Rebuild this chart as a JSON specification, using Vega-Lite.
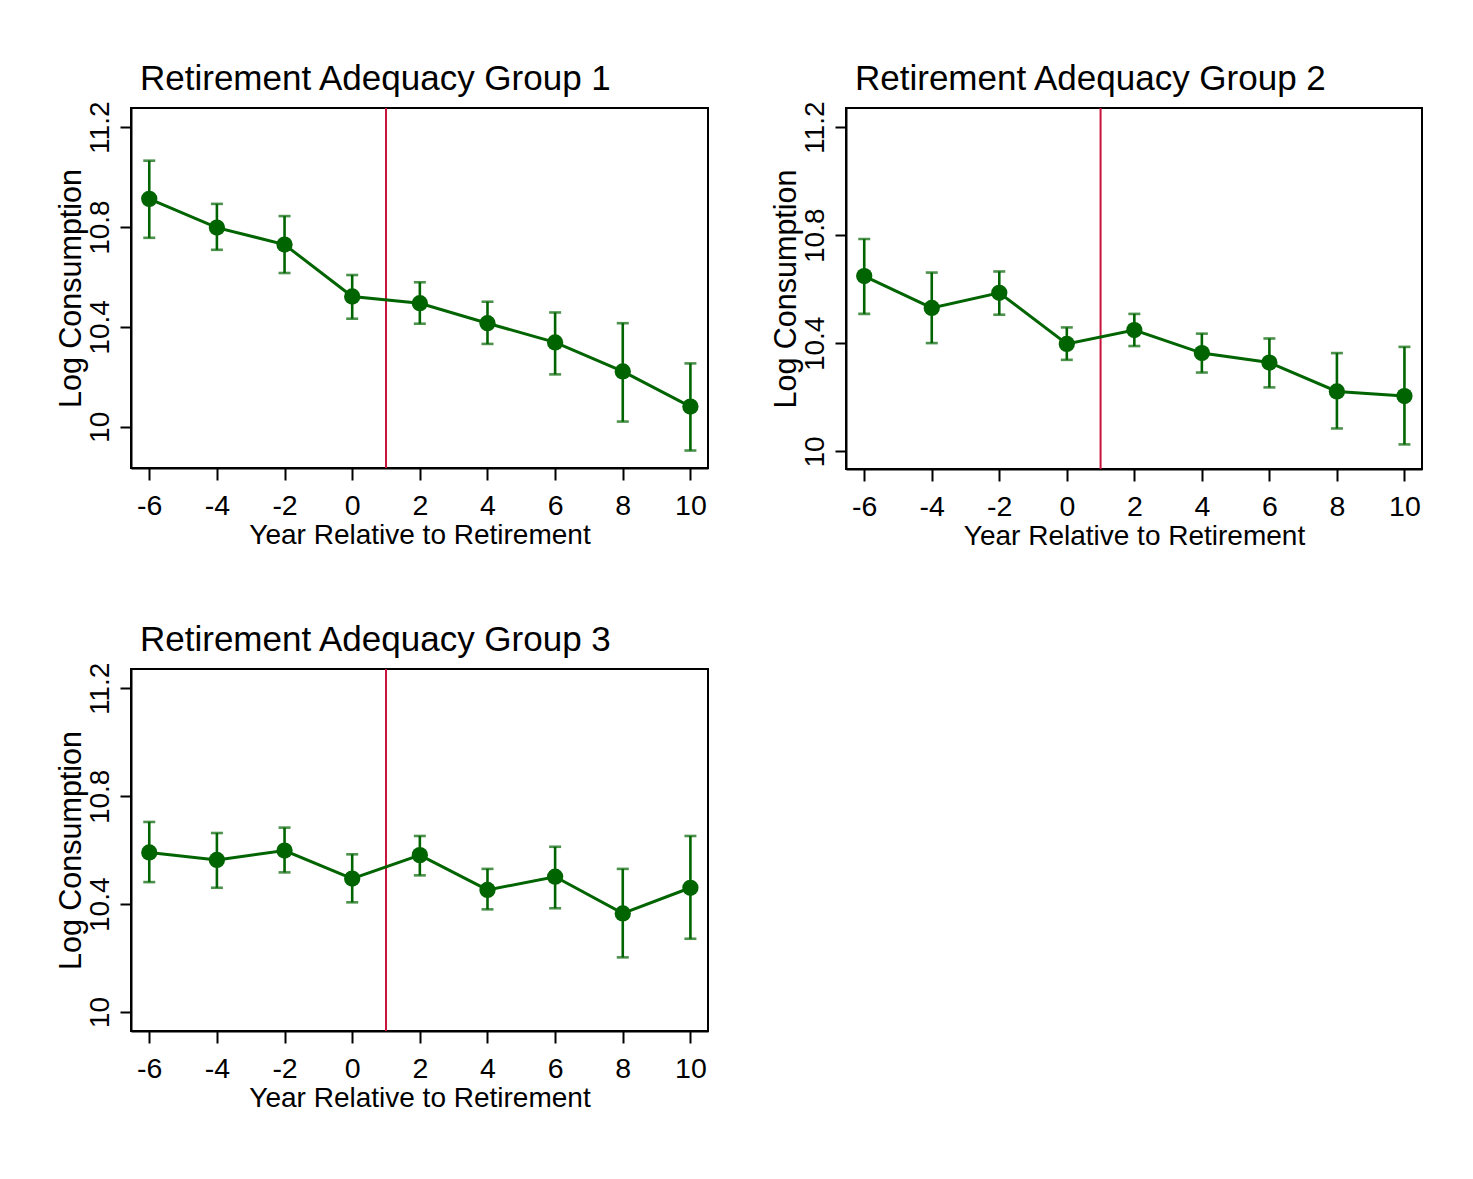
{
  "$schema": "https://vega.github.io/schema/vega-lite/v6.json",
  "padding": {"left": 54, "top": 60, "right": 0, "bottom": 0},
  "background": "white",
  "datasets": {
    "est": [
      {"group": 1, "year": -6, "est": 10.913, "lo": 10.757, "hi": 11.066},
      {"group": 1, "year": -4, "est": 10.798, "lo": 10.709, "hi": 10.893},
      {"group": 1, "year": -2, "est": 10.730, "lo": 10.616, "hi": 10.844},
      {"group": 1, "year": 0, "est": 10.522, "lo": 10.433, "hi": 10.608},
      {"group": 1, "year": 2, "est": 10.495, "lo": 10.413, "hi": 10.579},
      {"group": 1, "year": 4, "est": 10.415, "lo": 10.332, "hi": 10.501},
      {"group": 1, "year": 6, "est": 10.338, "lo": 10.210, "hi": 10.458},
      {"group": 1, "year": 8, "est": 10.222, "lo": 10.021, "hi": 10.415},
      {"group": 1, "year": 10, "est": 10.081, "lo": 9.905, "hi": 10.254},
      {"group": 2, "year": -6, "est": 10.649, "lo": 10.509, "hi": 10.786},
      {"group": 2, "year": -4, "est": 10.531, "lo": 10.401, "hi": 10.662},
      {"group": 2, "year": -2, "est": 10.587, "lo": 10.506, "hi": 10.666},
      {"group": 2, "year": 0, "est": 10.398, "lo": 10.339, "hi": 10.459},
      {"group": 2, "year": 2, "est": 10.449, "lo": 10.390, "hi": 10.509},
      {"group": 2, "year": 4, "est": 10.364, "lo": 10.292, "hi": 10.436},
      {"group": 2, "year": 6, "est": 10.329, "lo": 10.237, "hi": 10.418},
      {"group": 2, "year": 8, "est": 10.222, "lo": 10.085, "hi": 10.364},
      {"group": 2, "year": 10, "est": 10.205, "lo": 10.026, "hi": 10.387},
      {"group": 3, "year": -6, "est": 10.592, "lo": 10.482, "hi": 10.705},
      {"group": 3, "year": -4, "est": 10.564, "lo": 10.461, "hi": 10.664},
      {"group": 3, "year": -2, "est": 10.599, "lo": 10.518, "hi": 10.684},
      {"group": 3, "year": 0, "est": 10.495, "lo": 10.407, "hi": 10.585},
      {"group": 3, "year": 2, "est": 10.582, "lo": 10.507, "hi": 10.653},
      {"group": 3, "year": 4, "est": 10.453, "lo": 10.381, "hi": 10.531},
      {"group": 3, "year": 6, "est": 10.502, "lo": 10.385, "hi": 10.613},
      {"group": 3, "year": 8, "est": 10.366, "lo": 10.203, "hi": 10.531},
      {"group": 3, "year": 10, "est": 10.461, "lo": 10.272, "hi": 10.653}
    ],
    "retire": [{"retire_year": 1}]
  },
  "vconcat": [
    {
      "hconcat": [
        {
          "width": 577, "height": 360,
          "title": "Retirement Adequacy Group 1",
          "data": {"name": "est"},
          "transform": [{"filter": "datum.group == 1"}],
          "layer": [
            {"data": {"name": "retire"}, "mark": {"type": "rule", "color": "#C8143C", "strokeWidth": 2},
             "encoding": {"x": {"field": "retire_year", "type": "quantitative", "title": "Year Relative to Retirement", "scale": {"domain": [-6.54, 10.52], "nice": false, "zero": false}, "axis": {"values": [-6, -4, -2, 0, 2, 4, 6, 8, 10], "labelExpr": "'' + datum.value"}}}},
            {"mark": {"type": "errorbar", "color": "#006400", "rule": {"strokeWidth": 2.6}, "ticks": {"size": 12, "thickness": 2.6, "color": "#006400"}},
             "encoding": {"x": {"field": "year", "type": "quantitative", "title": "Year Relative to Retirement"},
                          "y": {"field": "lo", "type": "quantitative", "title": "Log Consumption", "scale": {"domain": [9.835, 11.277], "nice": false, "zero": false}, "axis": {"values": [10, 10.4, 10.8, 11.2], "format": "~g"}},
                          "y2": {"field": "hi"}}},
            {"mark": {"type": "line", "color": "#006400", "strokeWidth": 3},
             "encoding": {"x": {"field": "year", "type": "quantitative", "title": "Year Relative to Retirement"},
                          "y": {"field": "est", "type": "quantitative", "title": "Log Consumption"}}},
            {"mark": {"type": "point", "filled": true, "color": "#006400", "opacity": 1, "size": 265},
             "encoding": {"x": {"field": "year", "type": "quantitative", "title": "Year Relative to Retirement"},
                          "y": {"field": "est", "type": "quantitative", "title": "Log Consumption"}}}
          ]
        },
        {
          "width": 576, "height": 361,
          "title": "Retirement Adequacy Group 2",
          "data": {"name": "est"},
          "transform": [{"filter": "datum.group == 2"}],
          "layer": [
            {"data": {"name": "retire"}, "mark": {"type": "rule", "color": "#C8143C", "strokeWidth": 2},
             "encoding": {"x": {"field": "retire_year", "type": "quantitative", "title": "Year Relative to Retirement", "scale": {"domain": [-6.54, 10.52], "nice": false, "zero": false}, "axis": {"values": [-6, -4, -2, 0, 2, 4, 6, 8, 10], "labelExpr": "'' + datum.value"}}}},
            {"mark": {"type": "errorbar", "color": "#006400", "rule": {"strokeWidth": 2.6}, "ticks": {"size": 12, "thickness": 2.6, "color": "#006400"}},
             "encoding": {"x": {"field": "year", "type": "quantitative", "title": "Year Relative to Retirement"},
                          "y": {"field": "lo", "type": "quantitative", "title": "Log Consumption", "scale": {"domain": [9.935, 11.271], "nice": false, "zero": false}, "axis": {"values": [10, 10.4, 10.8, 11.2], "format": "~g"}},
                          "y2": {"field": "hi"}}},
            {"mark": {"type": "line", "color": "#006400", "strokeWidth": 3},
             "encoding": {"x": {"field": "year", "type": "quantitative", "title": "Year Relative to Retirement"},
                          "y": {"field": "est", "type": "quantitative", "title": "Log Consumption"}}},
            {"mark": {"type": "point", "filled": true, "color": "#006400", "opacity": 1, "size": 265},
             "encoding": {"x": {"field": "year", "type": "quantitative", "title": "Year Relative to Retirement"},
                          "y": {"field": "est", "type": "quantitative", "title": "Log Consumption"}}}
          ]
        }
      ],
      "spacing": 60
    },
    {
      "width": 577, "height": 362,
      "title": "Retirement Adequacy Group 3",
      "data": {"name": "est"},
      "transform": [{"filter": "datum.group == 3"}],
      "layer": [
        {"data": {"name": "retire"}, "mark": {"type": "rule", "color": "#C8143C", "strokeWidth": 2},
         "encoding": {"x": {"field": "retire_year", "type": "quantitative", "title": "Year Relative to Retirement", "scale": {"domain": [-6.54, 10.52], "nice": false, "zero": false}, "axis": {"values": [-6, -4, -2, 0, 2, 4, 6, 8, 10], "labelExpr": "'' + datum.value"}}}},
        {"mark": {"type": "errorbar", "color": "#006400", "rule": {"strokeWidth": 2.6}, "ticks": {"size": 12, "thickness": 2.6, "color": "#006400"}},
         "encoding": {"x": {"field": "year", "type": "quantitative", "title": "Year Relative to Retirement"},
                      "y": {"field": "lo", "type": "quantitative", "title": "Log Consumption", "scale": {"domain": [9.930, 11.272], "nice": false, "zero": false}, "axis": {"values": [10, 10.4, 10.8, 11.2], "format": "~g"}},
                      "y2": {"field": "hi"}}},
        {"mark": {"type": "line", "color": "#006400", "strokeWidth": 3},
         "encoding": {"x": {"field": "year", "type": "quantitative", "title": "Year Relative to Retirement"},
                      "y": {"field": "est", "type": "quantitative", "title": "Log Consumption"}}},
        {"mark": {"type": "point", "filled": true, "color": "#006400", "opacity": 1, "size": 265},
         "encoding": {"x": {"field": "year", "type": "quantitative", "title": "Year Relative to Retirement"},
                      "y": {"field": "est", "type": "quantitative", "title": "Log Consumption"}}}
      ]
    }
  ],
  "spacing": 70,
  "config": {
    "font": "Liberation Sans",
    "view": {"stroke": "black", "strokeWidth": 2},
    "axis": {"grid": false, "domainColor": "black", "domainWidth": 2, "tickColor": "black", "tickWidth": 2, "labelColor": "black", "titleColor": "black", "labelFont": "Liberation Sans", "titleFont": "Liberation Sans", "titleFontWeight": "normal", "labelFlush": false, "labelOverlap": false},
    "axisY": {"labelAngle": -90, "labelFontSize": 28, "titleFontSize": 30.5, "labelPadding": 6, "titlePadding": 0, "tickSize": 11},
    "axisX": {"labelFontSize": 28.5, "titleFontSize": 28, "labelPadding": 11, "titlePadding": 2, "tickSize": 12},
    "title": {"fontSize": 35, "fontWeight": "normal", "font": "Liberation Sans", "anchor": "start", "frame": "group", "color": "black", "offset": 4, "dx": 9}
  }
}
